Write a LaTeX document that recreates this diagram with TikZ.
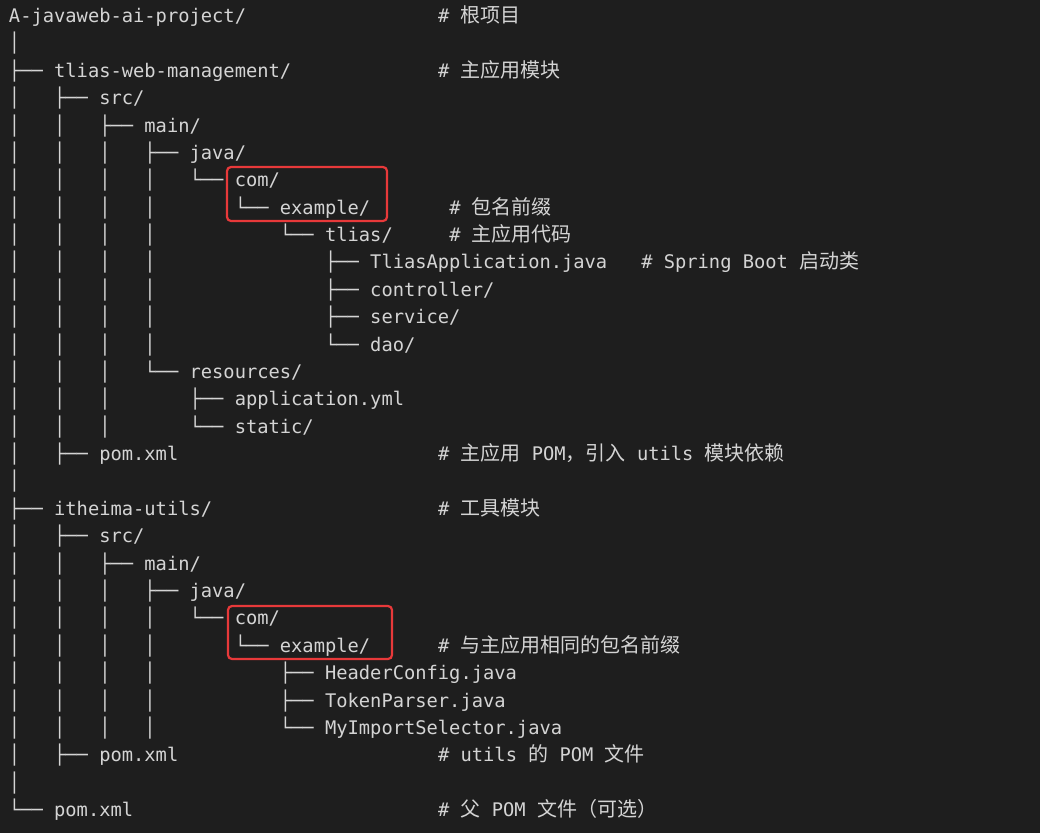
\documentclass[tikz,border=0pt]{standalone}
\usepackage{fontspec}
\setmainfont{DejaVu Sans Mono}
\newfontfamily\cjk[Scale=1.067]{Noto Sans CJK SC}
\definecolor{bg}{HTML}{1E1E1E}
\definecolor{fg}{HTML}{D4D4D4}
\definecolor{hl}{HTML}{E8393A}
\def\cw{11.29}
\def\lh{27.38}
\newcommand\putrow[4]{\node[txt] (#1) at ({9+#3*\cw},{22.5+(#2-1)*\lh}) {#4};}
\begin{document}
\frenchspacing
\begin{tikzpicture}[x=1pt,y=-1pt,
  txt/.style={anchor=base west, inner sep=0pt, outer sep=0pt, text=fg, font=\fontsize{18.75pt}{20pt}\selectfont},
  hlbox/.style={draw=hl, line width=2.2pt, rounded corners=4pt, inner sep=0pt, outer sep=0pt}]
\fill[bg] (0,0) rectangle (1040,833);
\useasboundingbox (0,0) rectangle (1040,833);
% tree
\putrow{r1}{1}{0}{A-javaweb-ai-project/}
\putrow{c1}{1}{38}{\#~{\cjk 根项目}}
\putrow{r2}{2}{0}{│}
\putrow{r3}{3}{0}{├──~tlias-web-management/}
\putrow{c3}{3}{38}{\#~{\cjk 主应用模块}}
\putrow{r4}{4}{0}{│~~~├──~src/}
\putrow{r5}{5}{0}{│~~~│~~~├──~main/}
\putrow{r6}{6}{0}{│~~~│~~~│~~~├──~java/}
\putrow{r7}{7}{0}{│~~~│~~~│~~~│~~~└──~com/}
\putrow{r8}{8}{0}{│~~~│~~~│~~~│~~~~~~~└──~example/}
\putrow{c8}{8}{39}{\#~{\cjk 包名前缀}}
\putrow{r9}{9}{0}{│~~~│~~~│~~~│~~~~~~~~~~~└──~tlias/}
\putrow{c9}{9}{39}{\#~{\cjk 主应用代码}}
\putrow{r10}{10}{0}{│~~~│~~~│~~~│~~~~~~~~~~~~~~~├──~TliasApplication.java}
\putrow{c10}{10}{56}{\#~Spring~Boot~{\cjk 启动类}}
\putrow{r11}{11}{0}{│~~~│~~~│~~~│~~~~~~~~~~~~~~~├──~controller/}
\putrow{r12}{12}{0}{│~~~│~~~│~~~│~~~~~~~~~~~~~~~├──~service/}
\putrow{r13}{13}{0}{│~~~│~~~│~~~│~~~~~~~~~~~~~~~└──~dao/}
\putrow{r14}{14}{0}{│~~~│~~~│~~~└──~resources/}
\putrow{r15}{15}{0}{│~~~│~~~│~~~~~~~├──~application.yml}
\putrow{r16}{16}{0}{│~~~│~~~│~~~~~~~└──~static/}
\putrow{r17}{17}{0}{│~~~├──~pom.xml}
\putrow{c17}{17}{38}{\#~{\cjk 主应用}~POM{\cjk ，引入}~utils~{\cjk 模块依赖}}
\putrow{r18}{18}{0}{│}
\putrow{r19}{19}{0}{├──~itheima-utils/}
\putrow{c19}{19}{38}{\#~{\cjk 工具模块}}
\putrow{r20}{20}{0}{│~~~├──~src/}
\putrow{r21}{21}{0}{│~~~│~~~├──~main/}
\putrow{r22}{22}{0}{│~~~│~~~│~~~├──~java/}
\putrow{r23}{23}{0}{│~~~│~~~│~~~│~~~└──~com/}
\putrow{r24}{24}{0}{│~~~│~~~│~~~│~~~~~~~└──~example/}
\putrow{c24}{24}{38}{\#~{\cjk 与主应用相同的包名前缀}}
\putrow{r25}{25}{0}{│~~~│~~~│~~~│~~~~~~~~~~~├──~HeaderConfig.java}
\putrow{r26}{26}{0}{│~~~│~~~│~~~│~~~~~~~~~~~├──~TokenParser.java}
\putrow{r27}{27}{0}{│~~~│~~~│~~~│~~~~~~~~~~~└──~MyImportSelector.java}
\putrow{r28}{28}{0}{│~~~├──~pom.xml}
\putrow{c28}{28}{38}{\#~utils~{\cjk 的}~POM~{\cjk 文件}}
\putrow{r29}{29}{0}{│}
\putrow{r30}{30}{0}{└──~pom.xml}
\putrow{c30}{30}{38}{\#~{\cjk 父}~POM~{\cjk 文件（可选）}}
% highlight boxes
\node[hlbox, minimum width=160pt, minimum height=54pt] (box1) at (307,194) {};
\node[hlbox, minimum width=164pt, minimum height=53pt] (box2) at (310,632.5) {};
\end{tikzpicture}
\end{document}
